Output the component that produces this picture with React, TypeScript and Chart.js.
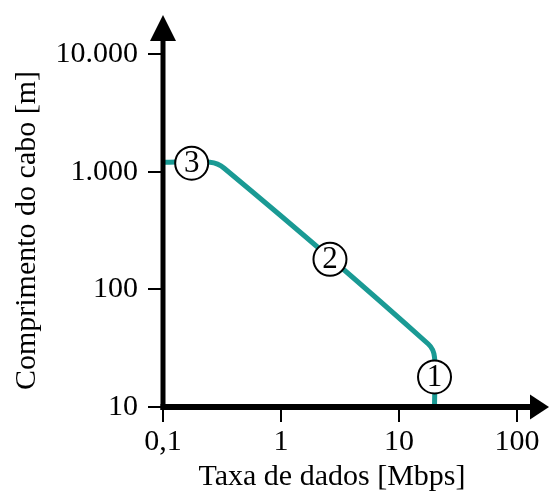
import React, { useEffect, useRef } from "react";
import { Chart, registerables } from "chart.js";

Chart.register(...registerables);

// Data (log-log): data rate [Mbps] vs cable length [m]
const curveRate = [0.1, 0.25, 0.33, 17.7, 20, 20];
const curveLength = [1200, 1200, 1070, 34.3, 26.5, 10];

const markerRate = [20, 2.6, 0.175];
const markerLength = [18, 180, 1180];
const markerText = ["1", "2", "3"];

const xTickValues = [0.1, 1, 10, 100];
const xTickLabels = ["0,1", "1", "10", "100"];
const yTickValues = [10, 100, 1000, 10000];
const yTickLabels = ["10", "100", "1.000", "10.000"];

const xTitle = "Taxa de dados [Mbps]";
const yTitle = "Comprimento do cabo [m]";

const SERIF = "'Liberation Serif', 'DejaVu Serif', serif";
const TEAL = "#1a9a94";

const axesPlugin = {
  id: "axesArrows",
  afterDatasetsDraw(chart: any) {
    const { ctx, chartArea } = chart;
    const xs = chart.scales.x;
    const ys = chart.scales.y;
    const ax = xs.getPixelForValue(xTickValues[0]);
    const ay = ys.getPixelForValue(yTickValues[0]);
    ctx.save();
    ctx.fillStyle = "#000";
    ctx.strokeStyle = "#000";
    // y axis
    const yTip = chartArea.top - 39;
    ctx.lineWidth = 5;
    ctx.beginPath();
    ctx.moveTo(ax, ay + 3);
    ctx.lineTo(ax, yTip + 24);
    ctx.stroke();
    ctx.beginPath();
    ctx.moveTo(ax, yTip);
    ctx.lineTo(ax - 13, yTip + 26);
    ctx.lineTo(ax + 13, yTip + 26);
    ctx.closePath();
    ctx.fill();
    // x axis
    const xTip = chartArea.right + 32;
    ctx.lineWidth = 6;
    ctx.beginPath();
    ctx.moveTo(ax - 2.5, ay);
    ctx.lineTo(xTip - 17, ay);
    ctx.stroke();
    ctx.beginPath();
    ctx.moveTo(xTip, ay);
    ctx.lineTo(xTip - 19, ay - 12.5);
    ctx.lineTo(xTip - 19, ay + 12.5);
    ctx.closePath();
    ctx.fill();

    // x axis title
    ctx.fillStyle = "#000";
    ctx.font = `30px ${SERIF}`;
    ctx.textAlign = "center";
    ctx.textBaseline = "middle";
    ctx.fillText(xTitle, (chartArea.left + chartArea.right) / 2 - 8, chartArea.bottom + 70);

    // circled markers
    for (let i = 0; i < markerRate.length; i++) {
      const px = xs.getPixelForValue(markerRate[i]);
      const py = ys.getPixelForValue(markerLength[i]);
      ctx.beginPath();
      ctx.arc(px, py, 16.5, 0, Math.PI * 2);
      ctx.fillStyle = "#fff";
      ctx.fill();
      ctx.lineWidth = 2;
      ctx.strokeStyle = "#000";
      ctx.stroke();
      ctx.fillStyle = "#000";
      ctx.font = `31px ${SERIF}`;
      ctx.textAlign = "center";
      ctx.textBaseline = "middle";
      ctx.fillText(markerText[i], px, py + 1);
    }
    ctx.restore();
  },
};

export default function App() {
  const ref = useRef<HTMLCanvasElement>(null);

  useEffect(() => {
    document.body.style.margin = "0";
    const canvas = ref.current;
    if (!canvas) return;
    const chart = new Chart(canvas, {
      type: "line",
      data: {
        datasets: [
          {
            data: curveRate.map((x, i) => ({ x, y: curveLength[i] })),
            borderColor: TEAL,
            borderWidth: 5,
            pointRadius: 0,
            tension: 0.3,
            borderJoinStyle: "round",
            borderCapStyle: "butt",
            fill: false,
          } as any,
        ],
      },
      plugins: [axesPlugin],
      options: {
        animation: false,
        responsive: false,
        maintainAspectRatio: false,
        layout: { padding: { top: 54, right: 32, left: 0, bottom: 0 } },
        plugins: { legend: { display: false }, tooltip: { enabled: false } },
        scales: {
          x: {
            type: "logarithmic",
            min: 0.1,
            max: 100,
            afterFit(scale: any) {
              scale.height = 85;
            },
            afterBuildTicks(scale: any) {
              scale.ticks = xTickValues.map((value) => ({ value }));
            },
            ticks: {
              autoSkip: false,
              maxRotation: 0,
              color: "#000",
              padding: 2,
              font: { family: SERIF, size: 30 },
              callback: (v: any) => {
                const i = xTickValues.indexOf(Number(v));
                return i >= 0 ? xTickLabels[i] : "";
              },
            },
            grid: {
              drawOnChartArea: false,
              drawTicks: true,
              tickLength: 15,
              color: "#000",
              lineWidth: 2,
            },
            border: { display: false },
            title: { display: false },
          },
          y: {
            type: "logarithmic",
            min: 10,
            max: 10000,
            afterFit(scale: any) {
              scale.width = 163;
            },
            afterBuildTicks(scale: any) {
              scale.ticks = yTickValues.map((value) => ({ value }));
            },
            ticks: {
              autoSkip: false,
              color: "#000",
              padding: 10,
              font: { family: SERIF, size: 30 },
              callback: (v: any) => {
                const i = yTickValues.indexOf(Number(v));
                return i >= 0 ? yTickLabels[i] : "";
              },
            },
            grid: {
              drawOnChartArea: false,
              drawTicks: true,
              tickLength: 15,
              color: "#000",
              lineWidth: 2,
            },
            border: { display: false },
            title: {
              display: true,
              text: yTitle,
              color: "#000",
              font: { family: SERIF, size: 30, lineHeight: 1 },
              padding: { top: 12, bottom: 0 },
            },
          },
        },
      },
    });
    return () => chart.destroy();
  }, []);

  return (
    <div style={{ width: 549, height: 492 }}>
      <canvas ref={ref} width={549} height={492} style={{ display: "block" }} />
    </div>
  );
}
